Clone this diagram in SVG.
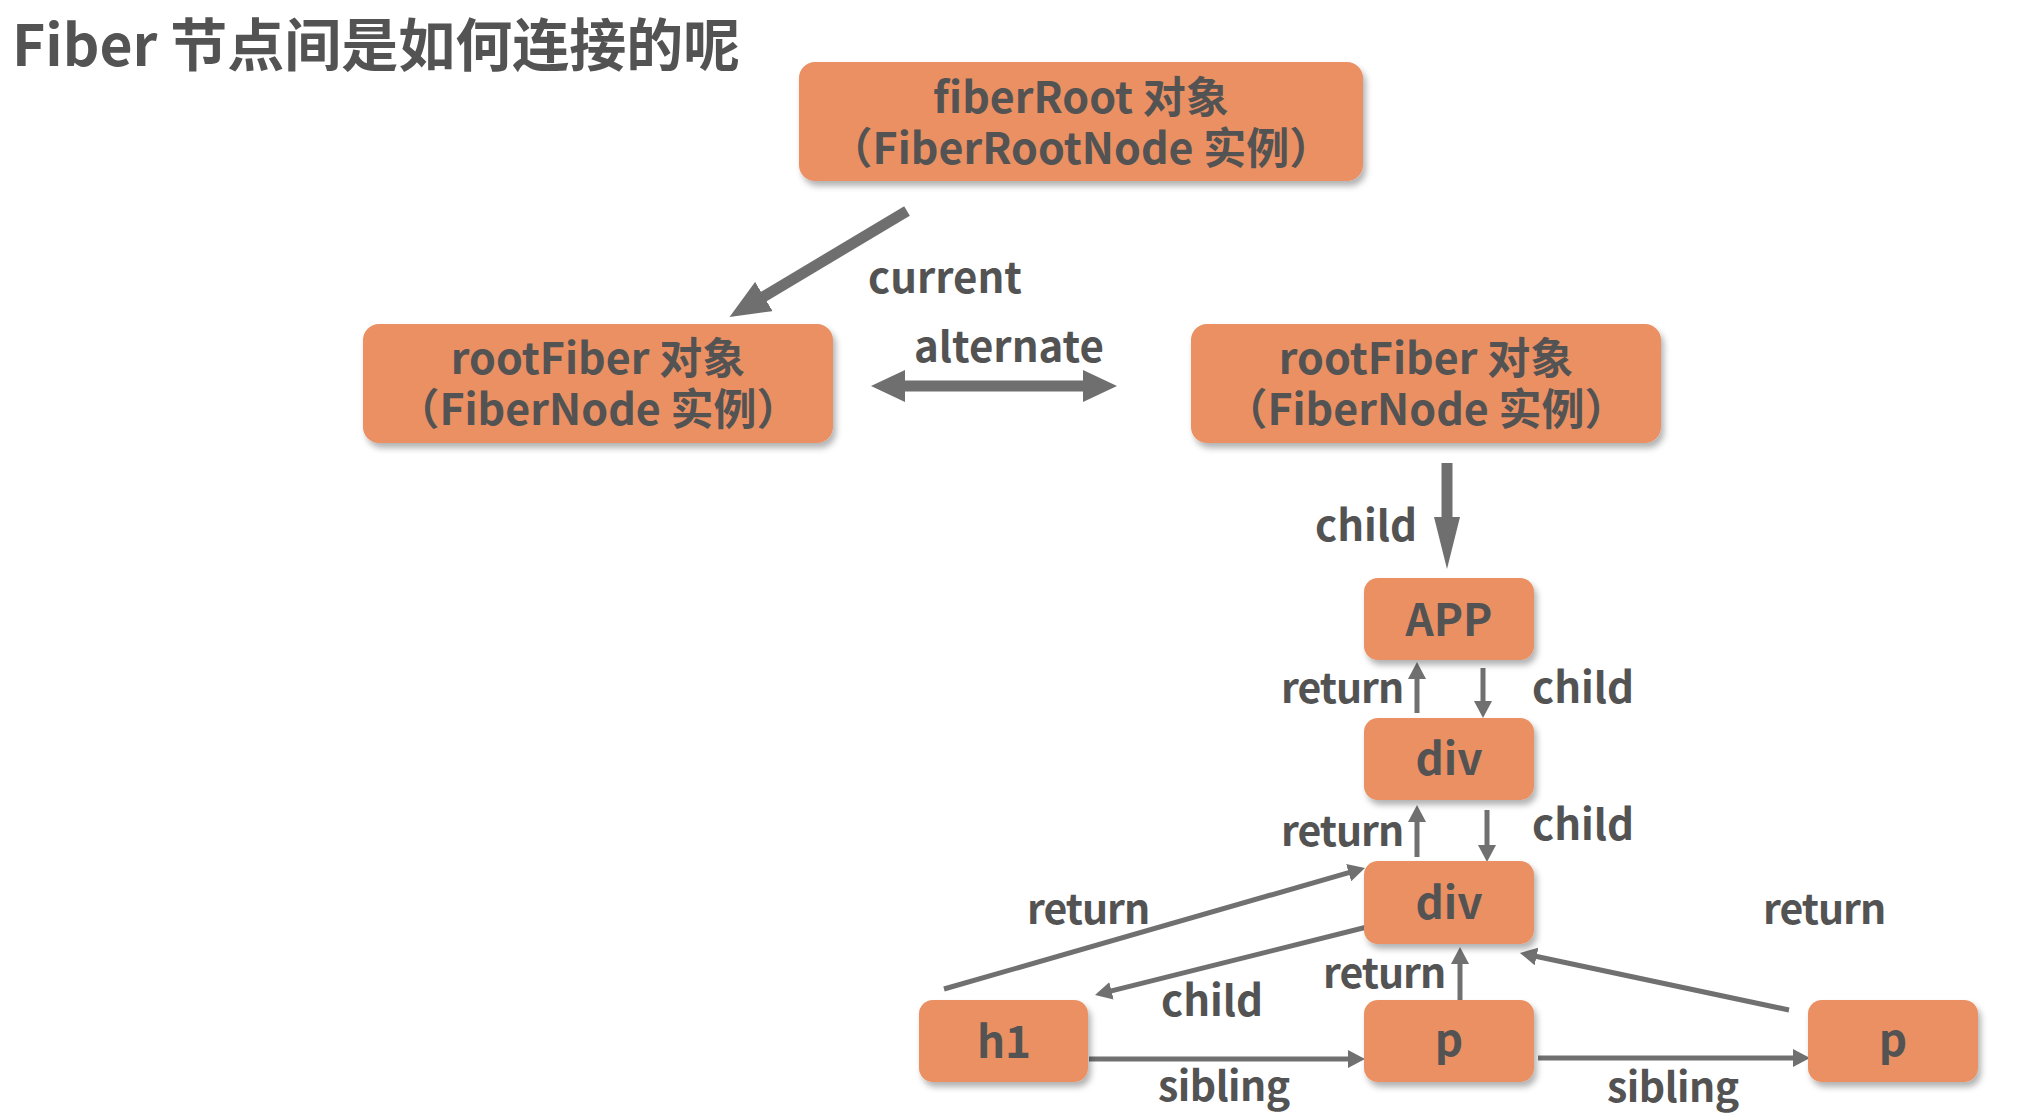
<svg xmlns="http://www.w3.org/2000/svg" width="2024" height="1118" viewBox="0 0 2024 1118">
<style>
  .box { fill: #EA9063; filter: url(#sh); }
  .t { font-family: "Noto Sans CJK SC", "Noto Sans", sans-serif; font-weight: 700; fill: #535353; }
  .nt { font-size: 43px; text-anchor: middle; }
  .st { font-size: 44px; text-anchor: middle; }
  .lb { font-size: 42px; }
  .rt { font-size: 41px; letter-spacing: -1px; }
  .sb { font-size: 41px; letter-spacing: -0.5px; }
  .ttl { font-size: 57px; }
  .thick { stroke: #6f6f6f; stroke-width: 11; fill: none; }
  .thin { stroke: #707070; stroke-width: 5; fill: none; }
</style>
<defs>
  <filter id="sh" x="-10%" y="-20%" width="125%" height="150%">
    <feDropShadow dx="3" dy="5" stdDeviation="3" flood-color="#000" flood-opacity="0.3"/>
  </filter>
  <marker id="big" markerUnits="userSpaceOnUse" viewBox="0 -16 34 32" refX="1" refY="0" markerWidth="34" markerHeight="32" orient="auto-start-reverse">
    <path d="M0,-16 L34,0 L0,16 Z" fill="#6f6f6f"/>
  </marker>
  <marker id="tall" markerUnits="userSpaceOnUse" viewBox="0 -13 52 26" refX="1" refY="0" markerWidth="52" markerHeight="26" orient="auto">
    <path d="M0,-13 L52,0 L0,13 Z" fill="#6f6f6f"/>
  </marker>
  <marker id="cur" markerUnits="userSpaceOnUse" viewBox="0 -17 40 34" refX="1" refY="0" markerWidth="40" markerHeight="34" orient="auto">
    <path d="M0,-17 L40,0 L0,17 Z" fill="#6f6f6f"/>
  </marker>
  <marker id="sm" markerUnits="userSpaceOnUse" viewBox="0 -9 17 18" refX="1" refY="0" markerWidth="17" markerHeight="18" orient="auto">
    <path d="M0,-9 L17,0 L0,9 Z" fill="#707070"/>
  </marker>
</defs>
<rect width="2024" height="1118" fill="#ffffff"/>

<text class="t ttl" x="12" y="66">Fiber 节点间是如何连接的呢</text>

<g id="connectors">
  <line class="thick" x1="907" y1="211" x2="763" y2="297" marker-end="url(#cur)"/>
  <line class="thick" x1="904" y1="386" x2="1084" y2="386" marker-start="url(#big)" marker-end="url(#big)"/>
  <line class="thick" x1="1447" y1="463" x2="1447" y2="518" marker-end="url(#tall)"/>
  <line class="thin" x1="1417" y1="713" x2="1417" y2="678" marker-end="url(#sm)"/>
  <line class="thin" x1="1483" y1="668" x2="1483" y2="702" marker-end="url(#sm)"/>
  <line class="thin" x1="1417" y1="857" x2="1417" y2="821" marker-end="url(#sm)"/>
  <line class="thin" x1="1487" y1="810" x2="1487" y2="846" marker-end="url(#sm)"/>
  <line class="thin" x1="944" y1="989" x2="1349.6" y2="872.4" marker-end="url(#sm)"/>
  <line class="thin" x1="1371" y1="926" x2="1110.5" y2="991.1" marker-end="url(#sm)"/>
  <line class="thin" x1="1460" y1="1000" x2="1460" y2="963" marker-end="url(#sm)"/>
  <line class="thin" x1="1789" y1="1010" x2="1535.6" y2="956.3" marker-end="url(#sm)"/>
  <line class="thin" x1="1089" y1="1059" x2="1349" y2="1059" marker-end="url(#sm)"/>
  <line class="thin" x1="1538" y1="1058" x2="1794" y2="1058" marker-end="url(#sm)"/>
  <text class="t lb" x="868" y="293">current</text>
  <text class="t lb" x="914" y="362">alternate</text>
  <text class="t lb" x="1315" y="541">child</text>
  <text class="t rt" x="1281" y="703">return</text>
  <text class="t lb" x="1532" y="703">child</text>
  <text class="t rt" x="1281" y="846">return</text>
  <text class="t lb" x="1532" y="840">child</text>
  <text class="t rt" x="1027" y="924">return</text>
  <text class="t rt" x="1763" y="924">return</text>
  <text class="t rt" x="1323" y="988">return</text>
  <text class="t lb" x="1161" y="1016">child</text>
  <text class="t sb" x="1158" y="1101">sibling</text>
  <text class="t sb" x="1607" y="1102">sibling</text>
</g>

<g id="fiberRoot">
  <rect class="box" x="799" y="62" width="564" height="119" rx="16"/>
  <text class="t nt"><tspan x="1081" y="113">fiberRoot 对象</tspan><tspan x="1081" y="164">（FiberRootNode 实例）</tspan></text>
</g>
<g id="rootFiberCurrent">
  <rect class="box" x="363" y="324" width="470" height="119" rx="16"/>
  <text class="t nt"><tspan x="598" y="374">rootFiber 对象</tspan><tspan x="598" y="425">（FiberNode 实例）</tspan></text>
</g>
<g id="rootFiberAlternate">
  <rect class="box" x="1191" y="324" width="470" height="119" rx="16"/>
  <text class="t nt"><tspan x="1426" y="374">rootFiber 对象</tspan><tspan x="1426" y="425">（FiberNode 实例）</tspan></text>
</g>
<g id="app">
  <rect class="box" x="1364" y="578" width="170" height="82" rx="14"/>
  <text class="t st" x="1449" y="636">APP</text>
</g>
<g id="div1">
  <rect class="box" x="1364" y="718" width="170" height="82" rx="14"/>
  <text class="t st" x="1449" y="775">div</text>
</g>
<g id="div2">
  <rect class="box" x="1364" y="861" width="170" height="83" rx="14"/>
  <text class="t st" x="1449" y="919">div</text>
</g>
<g id="h1">
  <rect class="box" x="919" y="1000" width="169" height="82" rx="14"/>
  <text class="t st" x="1004" y="1058">h1</text>
</g>
<g id="p1">
  <rect class="box" x="1364" y="1000" width="170" height="82" rx="14"/>
  <text class="t st" x="1449" y="1056">p</text>
</g>
<g id="p2">
  <rect class="box" x="1808" y="1000" width="170" height="82" rx="14"/>
  <text class="t st" x="1893" y="1056">p</text>
</g>
</svg>
